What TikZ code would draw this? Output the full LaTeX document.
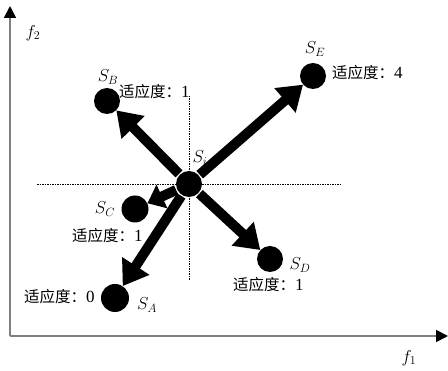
\documentclass[tikz,border=0pt]{standalone}
\usepackage{fontspec}
\setmainfont{Liberation Serif}
\newfontfamily\cjk{Noto Sans CJK SC}
\usetikzlibrary{arrows.meta}
\begin{document}
\begin{tikzpicture}[x=1pt,y=-1pt,
  dot/.style={circle,fill=black,minimum size=26pt,inner sep=0pt},
  fitlbl/.style={font=\cjk\fontsize{15.5}{15.5}\selectfont,inner sep=0pt},
  lbl/.style={font=\fontsize{18}{18}\selectfont,inner sep=0pt},
  bigarrow/.style={line width=10pt,-{Triangle[length=24pt,width=31pt]},shorten <=1pt},
  axis/.style={gray,line width=1.8pt,-{Triangle[length=12pt,width=12pt,color=black]}},
  guide/.style={line width=0.8pt,dash pattern=on 1.5pt off 1pt}]
\useasboundingbox (0,0) rectangle (448,371);
\coordinate (O) at (10,336);
\coordinate (Ytop) at (10,6);
\coordinate (Xend) at (448,336);
\draw[axis] (O) -- (Ytop);
\draw[axis] (O) -- (Xend);
\node[lbl] (f2) at (33,33) {$f_2$};
\node[lbl] (f1) at (409,358) {$f_1$};
% dashed guides
\coordinate (hl) at (37,184);
\coordinate (hr) at (342,184);
\coordinate (vt) at (189,96);
\coordinate (vb) at (189,281);
\draw[guide] (hl) -- (hr);
\draw[guide] (vt) -- (vb);
% dots
\node[dot] (Si) at (189,184) {};
\node[dot] (SB) at (107,101) {};
\node[dot] (SE) at (313,76) {};
\node[dot,minimum size=27pt] (SC) at (135,209) {};
\node[dot,minimum size=28pt] (SA) at (115,298) {};
\node[dot] (SD) at (270,259) {};
% labels
\node[lbl] (lSi) at (200,158) {$S_i$};
\node[lbl] (lSB) at (108,77) {$S_B$};
\node[lbl] (lSE) at (315,49) {$S_E$};
\node[lbl] (lSC) at (105,209) {$S_C$};
\node[lbl] (lSA) at (147,305) {$S_A$};
\node[lbl] (lSD) at (300,265) {$S_D$};
\node[fitlbl,anchor=west] (fB) at (119,92) {适应度：{\rmfamily\fontsize{17}{17}\selectfont 1}};
\node[fitlbl,anchor=west] (fE) at (332,73) {适应度：{\rmfamily\fontsize{17}{17}\selectfont 4}};
\node[fitlbl,anchor=west] (fC) at (72,236) {适应度：{\rmfamily\fontsize{17}{17}\selectfont 1}};
\node[fitlbl,anchor=west] (fA) at (24,297) {适应度：{\rmfamily\fontsize{17}{17}\selectfont 0}};
\node[fitlbl,anchor=west] (fD) at (233,285) {适应度：{\rmfamily\fontsize{17}{17}\selectfont 1}};
% arrows
\draw[bigarrow] (Si) -- (SB);
\draw[bigarrow] (Si) -- (SE);
\draw[bigarrow,-{Triangle[length=16pt,width=25pt]}] (Si) -- (SC);
\draw[bigarrow] (Si) -- (SA);
\draw[bigarrow] (Si) -- (SD);
\end{tikzpicture}
\end{document}
